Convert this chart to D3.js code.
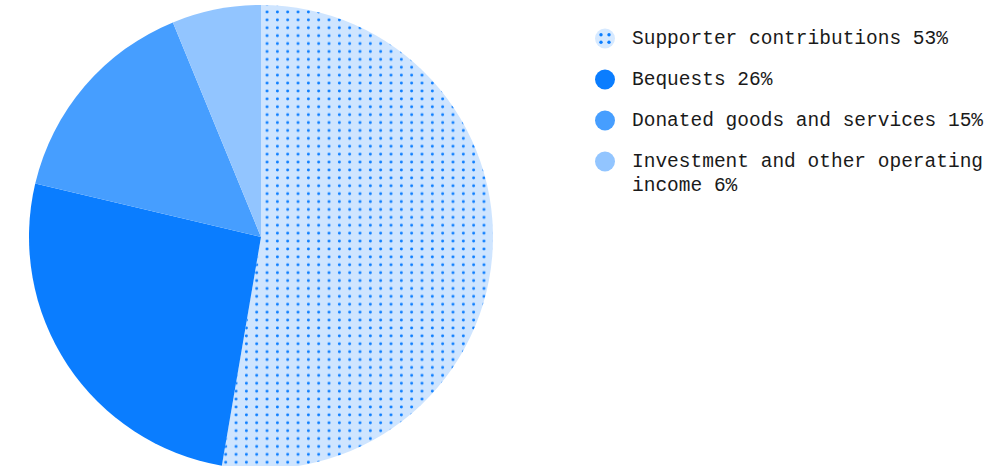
<!DOCTYPE html>
<html>
<head>
<meta charset="utf-8">
<script src="https://cdn.jsdelivr.net/npm/d3@7"></script>
<style>
  body { margin: 0; background: #fff; }
  svg { display: block; }
</style>
</head>
<body>
<svg id="chart"></svg>
<script>
const width = 1000;
const height = 466;

const labels = ["Supporter contributions", "Bequests", "Donated goods and services", "Investment and other operating income"];
// shares; legend shows them rounded
const values = [52.7, 26.0, 15.1, 6.2];
const colors = ["url(#dots)", "#0a7dff", "#469eff", "#92c5ff"];

const cx = 261;
const cy = 237;
const radius = 232;

const svg = d3.select("#chart")
  .attr("width", width)
  .attr("height", height);

// dotted fill for the first slice
const defs = svg.append("defs");
const pattern = defs.append("pattern")
  .attr("id", "dots")
  .attr("patternUnits", "userSpaceOnUse")
  .attr("x", 264.3 - 5.165)
  .attr("y", 12 - 3.95)
  .attr("width", 10.33)
  .attr("height", 7.9);
pattern.append("rect")
  .attr("width", 10.33)
  .attr("height", 7.9)
  .attr("fill", "#cfe5ff");
pattern.append("circle")
  .attr("cx", 5.165)
  .attr("cy", 3.95)
  .attr("r", 1.45)
  .attr("fill", "#0a7dff");

const pie = d3.pie().sort(null).value(d => d);
const arc = d3.arc().innerRadius(0).outerRadius(radius);

svg.append("g")
  .attr("transform", `translate(${cx}, ${cy})`)
  .selectAll("path")
  .data(pie(values))
  .enter()
  .append("path")
  .attr("d", arc)
  .attr("fill", (d, i) => colors[i]);

// legend
const legendX = 605;
const textX = 632;
const fontSize = 19.5;
const lineHeight = 24;
const rowGap = 41;

function wrap(str, maxChars) {
  const words = str.split(" ");
  const lines = [];
  let cur = "";
  words.forEach(w => {
    const next = cur ? cur + " " + w : w;
    if (next.length > maxChars && cur) {
      lines.push(cur);
      cur = w;
    } else {
      cur = next;
    }
  });
  lines.push(cur);
  return lines;
}

const legend = svg.append("g");
let baseline = 44;
labels.forEach((label, i) => {
  const lines = wrap(label + " " + Math.round(values[i]) + "%", 30);
  const row = legend.append("g");
  row.append("circle")
    .attr("cx", legendX)
    .attr("cy", baseline - 5.5)
    .attr("r", 10)
    .attr("fill", i === 0 ? "#d6e9ff" : colors[i]);
  if (i === 0) {
    [[-4, -3.7], [4, -3.7], [-4, 3.7], [4, 3.7]].forEach(p => {
      row.append("circle")
        .attr("cx", legendX + p[0])
        .attr("cy", baseline - 5.5 + p[1])
        .attr("r", 1.7)
        .attr("fill", "#0a7dff");
    });
  }
  const text = row.append("text")
    .attr("x", textX)
    .attr("y", baseline)
    .style("font-family", "'Liberation Mono', 'DejaVu Sans Mono', monospace")
    .style("font-size", fontSize + "px")
    .style("fill", "#1a1a1a");
  lines.forEach((line, j) => {
    text.append("tspan")
      .attr("x", textX)
      .attr("dy", j === 0 ? 0 : lineHeight)
      .text(line);
  });
  baseline += rowGap + (lines.length - 1) * lineHeight;
});
</script>
</body>
</html>
